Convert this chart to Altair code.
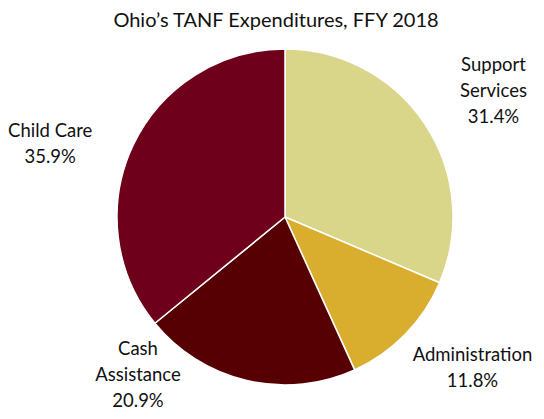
import altair as alt
import pandas as pd

# ---- data ----
categories = ["Support Services", "Administration", "Cash Assistance", "Child Care"]
label_text = ["Support\nServices", "Administration", "Cash\nAssistance", "Child Care"]
shares = [31.4, 11.8, 20.9, 35.9]
slice_order = [1, 2, 3, 4]

# ---- style ----
colors = ["#D9D589", "#D9AD2D", "#560003", "#6F001C"]
# pixel nudges of each label from a point 220px out along its slice's mid-angle
label_nudge_x = {"Support Services": 25, "Administration": 30, "Cash Assistance": -97, "Child Care": -36}
label_nudge_y = {"Support Services": -31, "Administration": -16, "Cash Assistance": -82, "Child Care": 8}

CX, CY, R, RL = 277, 177, 168, 220
FONT = "Lato"

df = pd.DataFrame({
    "category": categories,
    "value": shares,
    "order": slice_order,
    "label": [f"{t}\n{v:.1f}%" for t, v in zip(label_text, shares)],
    "ndx": [label_nudge_x[c] for c in categories],
    "ndy": [label_nudge_y[c] for c in categories],
})

base = alt.Chart(df)

pie = base.mark_arc(radius=R, stroke="white", strokeWidth=1.5).encode(
    theta=alt.Theta("value:Q", stack=True),
    color=alt.Color("category:N", scale=alt.Scale(domain=categories, range=colors), legend=None),
    order=alt.Order("order:Q"),
    x=alt.value(CX),
    y=alt.value(CY),
)

labels = base.transform_joinaggregate(
    total="sum(value)"
).transform_window(
    cum="sum(value)", sort=[alt.SortField("order")]
).transform_calculate(
    mid="(datum.cum - datum.value / 2) / datum.total * 2 * PI",
).transform_calculate(
    lx=f"{CX} + {RL} * sin(datum.mid) + datum.ndx",
    ly=f"{CY} - {RL} * cos(datum.mid) + datum.ndy",
).mark_text(
    font=FONT, fontSize=18.5, lineBreak="\n", lineHeight=26, align="center", baseline="middle", color="#111111"
).encode(
    x=alt.X("lx:Q", scale=None, axis=None),
    y=alt.Y("ly:Q", scale=None, axis=None),
    text="label:N",
)

chart = alt.layer(pie, labels).properties(
    width=528,
    height=371,
    title=alt.TitleParams(
        "Ohio\u2019s TANF Expenditures, FFY 2018",
        font=FONT, fontSize=20, fontWeight="normal", color="#111111", anchor="middle",
        offset=9, dx=4,
    ),
    view=alt.ViewBackground(stroke="transparent", strokeWidth=0),
    autosize=alt.AutoSizeParams(type="none"),
    padding={"left": 0, "top": 32, "right": 0, "bottom": 0},
).configure_view(strokeWidth=0, stroke="transparent").configure(background="white")

chart.save("out.html", embed_options={"renderer": "svg", "actions": False})
